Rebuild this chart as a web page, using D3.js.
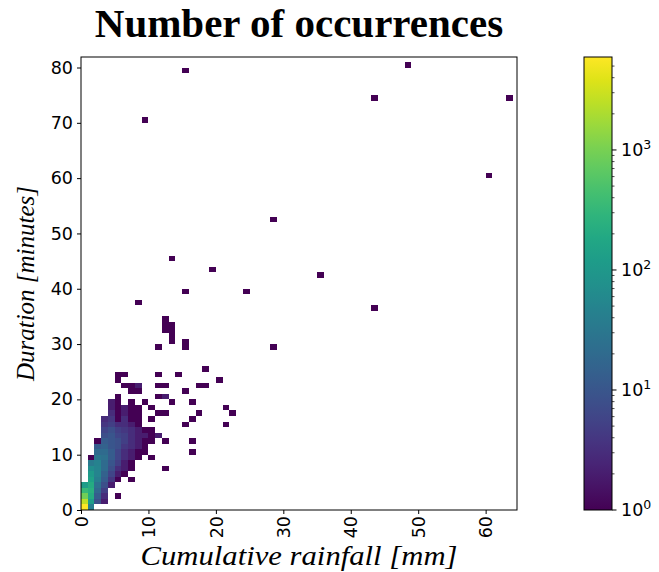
<!DOCTYPE html>
<html><head><meta charset="utf-8">
<script src="https://cdn.jsdelivr.net/npm/d3@7"></script>
<style>body{margin:0;background:#fff}svg{display:block}</style>
</head><body>
<script>
// ---- data ----
const title = "Number of occurrences";
const xLabel = "Cumulative rainfall [mm]";
const yLabel = "Duration [minutes]";
const xDomain = [0, 64.65];
const yDomain = [0, 81.9];
const binW = 1, binH = 1;
const xTicks = [0, 10, 20, 30, 40, 50, 60];
const yTicks = [0, 10, 20, 30, 40, 50, 60, 70, 80];
const cbarMajor = [1, 10, 100, 1000];
const cbarExp = ["0", "1", "2", "3"];
const countMax = 5950;
// [x bin start (mm), y bin start (min), count]
const cells = [
 [0,0,5950],[1,0,40],
 [0,1,2500],[1,1,120],[2,1,8],[3,1,2],
 [0,2,900],[1,2,200],[2,2,12],[3,2,3],[5,2,1],
 [0,3,350],[1,3,250],[2,3,18],[3,3,5],
 [0,4,120],[1,4,200],[2,4,25],[3,4,8],[4,4,2],
 [1,5,150],[2,5,40],[3,5,12],[4,5,4],[5,5,1],[7,5,1],
 [1,6,110],[2,6,50],[3,6,15],[4,6,6],[5,6,2],[6,6,1],
 [1,7,70],[2,7,50],[3,7,20],[4,7,8],[5,7,3],[6,7,2],[7,7,1],[12,7,1],
 [1,8,35],[2,8,45],[3,8,20],[4,8,10],[5,8,5],[6,8,2],[7,8,1],
 [1,9,1],[2,9,30],[3,9,25],[4,9,12],[5,9,6],[6,9,3],[7,9,2],[8,9,1],[10,9,1],
 [2,10,20],[3,10,20],[4,10,12],[5,10,6],[6,10,3],[7,10,2],[8,10,1],[9,10,1],[16,10,1],
 [2,11,12],[3,11,15],[4,11,10],[5,11,8],[6,11,4],[7,11,3],[8,11,2],[9,11,1],
 [2,12,1],[3,12,12],[4,12,10],[5,12,8],[6,12,5],[7,12,3],[8,12,2],[9,12,1],[10,12,1],[12,12,1],[16,12,1],
 [3,13,8],[4,13,10],[5,13,6],[6,13,5],[7,13,3],[8,13,2],[9,13,2],[10,13,1],[11,13,2],
 [3,14,6],[4,14,8],[5,14,5],[6,14,4],[7,14,3],[8,14,2],[9,14,1],[10,14,1],
 [3,15,4],[4,15,5],[5,15,3],[6,15,3],[7,15,2],[8,15,1],[15,15,1],[21,15,1],
 [3,16,3],[4,16,4],[5,16,1],[6,16,3],[7,16,1],[8,16,1],[10,16,1],[16,16,1],
 [4,17,3],[5,17,1],[6,17,2],[7,17,1],[8,17,1],[11,17,1],[12,17,1],[17,17,1],[22,17,1],
 [4,18,2],[5,18,1],[6,18,2],[7,18,1],[8,18,1],[10,18,1],[21,18,1],
 [4,19,2],[5,19,1],[7,19,1],[9,19,1],[13,19,1],[16,19,1],
 [5,20,1],[11,20,1],[12,20,2],
 [7,21,1],[8,21,1],[15,21,1],
 [6,22,1],[7,22,1],[8,22,2],[11,22,1],[12,22,1],[17,22,1],[18,22,1],
 [5,23,1],[20,23,1],
 [5,24,1],[6,24,1],[11,24,1],[14,24,1],
 [18,25,1],
 [11,29,1],[13,30,1],[13,31,1],[12,32,1],[13,32,1],[12,33,1],[13,33,1],[12,34,1],[15,29,1],[15,30,1],
 [28,29,1],[43,36,1],[8,37,1],[15,39,1],[24,39,1],[35,42,1],[19,43,1],[13,45,1],
 [28,52,1],[60,60,1],[9,70,1],[43,74,1],[63,74,1],[15,79,1],[48,80,1]
];

// ---- layout ----
const W = 659, H = 572;
const plot = {l: 81, r: 517, t: 57, b: 510};
const cbar = {l: 584, r: 612, t: 57, b: 510};

const svg = d3.select("body").append("svg").attr("width", W).attr("height", H);

const x = d3.scaleLinear().domain(xDomain).range([plot.l, plot.r]);
const y = d3.scaleLinear().domain(yDomain).range([plot.b, plot.t]);
const cScale = d3.scaleLog().domain([1, countMax]).range([0, 1]);
const color = v => d3.interpolateViridis(cScale(v));

// cells
svg.append("g").selectAll("rect").data(cells).join("rect")
  .attr("x", d => x(d[0]))
  .attr("y", d => y(d[1] + binH))
  .attr("width", d => x(d[0] + binW) - x(d[0]))
  .attr("height", d => y(d[1]) - y(d[1] + binH))
  .attr("fill", d => color(d[2]))
  .attr("shape-rendering", "crispEdges");

// axes
const tickFont = "'DejaVu Sans', sans-serif";
const tickSize = "17.5px";
const xAxis = svg.append("g").attr("transform", `translate(0,${plot.b})`)
  .call(d3.axisBottom(x).tickValues(xTicks).tickSize(4).tickPadding(4).tickFormat(d3.format("d")));
xAxis.select(".domain").remove();
xAxis.selectAll("text")
  .attr("transform", "rotate(-90)")
  .attr("text-anchor", "end")
  .attr("x", -6).attr("y", 0).attr("dy", "0.35em")
  .style("font-family", tickFont).style("font-size", tickSize).attr("fill", "#000");

const yAxis = svg.append("g").attr("transform", `translate(${plot.l},0)`)
  .call(d3.axisLeft(y).tickValues(yTicks).tickSize(4).tickPadding(4).tickFormat(d3.format("d")));
yAxis.select(".domain").remove();
yAxis.selectAll("text").style("font-family", tickFont).style("font-size", tickSize).attr("fill", "#000");

// frame
svg.append("rect").attr("x", plot.l).attr("y", plot.t)
  .attr("width", plot.r - plot.l).attr("height", plot.b - plot.t)
  .attr("fill", "none").attr("stroke", "#000").attr("stroke-width", 1);

// title and labels
svg.append("text").attr("x", (plot.l + plot.r) / 2).attr("y", 37)
  .attr("text-anchor", "middle")
  .style("font-family", "'Liberation Serif', 'Times New Roman', serif")
  .style("font-weight", "bold").style("font-size", "41px").text(title);

svg.append("text").attr("x", (plot.l + plot.r) / 2).attr("y", 565)
  .attr("text-anchor", "middle")
  .attr("textLength", 317).attr("lengthAdjust", "spacingAndGlyphs")
  .style("font-family", "'Liberation Serif', 'Times New Roman', serif")
  .style("font-style", "italic").style("font-size", "27px").text(xLabel);

svg.append("text")
  .attr("transform", `translate(34,${(plot.t + plot.b) / 2}) rotate(-90)`)
  .attr("text-anchor", "middle")
  .attr("textLength", 195).attr("lengthAdjust", "spacingAndGlyphs")
  .style("font-family", "'Liberation Serif', 'Times New Roman', serif")
  .style("font-style", "italic").style("font-size", "26px").text(yLabel);

// colorbar
const defs = svg.append("defs");
const grad = defs.append("linearGradient").attr("id", "cb")
  .attr("x1", 0).attr("y1", 1).attr("x2", 0).attr("y2", 0);
d3.range(0, 1.0001, 0.05).forEach(t => {
  grad.append("stop").attr("offset", t).attr("stop-color", d3.interpolateViridis(t));
});
svg.append("rect").attr("x", cbar.l).attr("y", cbar.t)
  .attr("width", cbar.r - cbar.l).attr("height", cbar.b - cbar.t)
  .attr("fill", "url(#cb)").attr("stroke", "#000").attr("stroke-width", 1);

const cy = d3.scaleLog().domain([1, countMax]).range([cbar.b, cbar.t]);
const minor = [];
[1, 10, 100, 1000].forEach(dec => {
  for (let k = 2; k <= 9; k++) { const v = k * dec; if (v <= countMax) minor.push(v); }
});
const cg = svg.append("g");
cg.selectAll("line.mn").data(minor).join("line").attr("class", "mn")
  .attr("x1", cbar.r).attr("x2", cbar.r + 2.5)
  .attr("y1", d => cy(d)).attr("y2", d => cy(d))
  .attr("stroke", "#000").attr("stroke-width", 0.7);
cg.selectAll("line.mj").data(cbarMajor).join("line").attr("class", "mj")
  .attr("x1", cbar.r).attr("x2", cbar.r + 4.5)
  .attr("y1", d => cy(d)).attr("y2", d => cy(d))
  .attr("stroke", "#000").attr("stroke-width", 1);
const lab = cg.selectAll("text").data(cbarMajor).join("text")
  .attr("x", 621).attr("y", d => cy(d)).attr("dy", "0.35em")
  .style("font-family", tickFont).style("font-size", tickSize);
lab.append("tspan").text("10");
lab.append("tspan").attr("dy", "-0.55em").style("font-size", "12.5px")
  .text((d, i) => cbarExp[i]);
</script>
</body></html>
